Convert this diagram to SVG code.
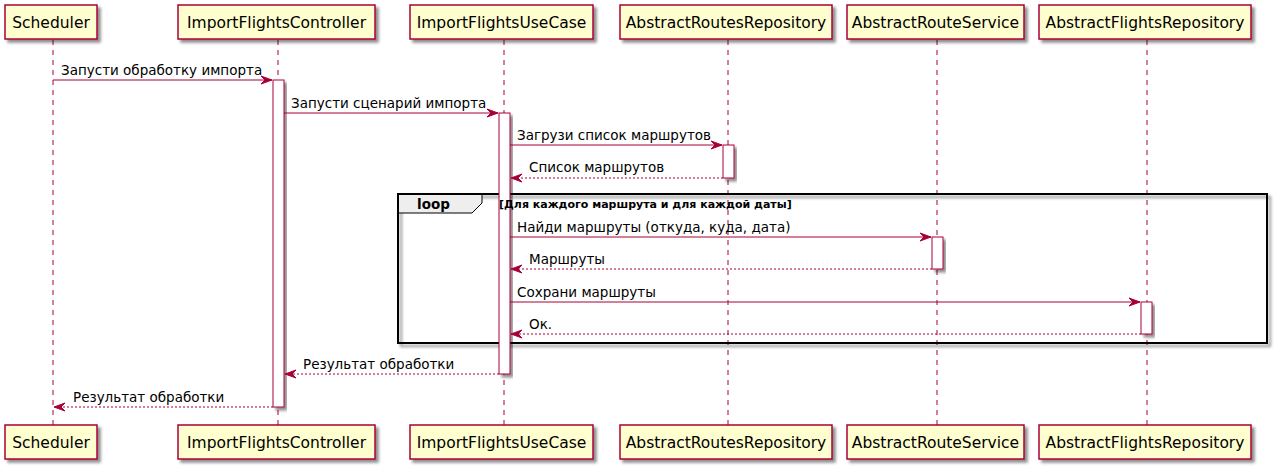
<svg xmlns="http://www.w3.org/2000/svg" width="1280" height="474" viewBox="0 0 1280 474">
<defs>
<filter id="sh" x="-10%" y="-10%" width="130%" height="140%">
<feGaussianBlur in="SourceAlpha" stdDeviation="1.5"/>
<feOffset dx="3" dy="3" result="b"/>
<feComponentTransfer><feFuncA type="linear" slope="0.45"/></feComponentTransfer>
<feMerge><feMergeNode/><feMergeNode in="SourceGraphic"/></feMerge>
</filter>
<marker id="ah" viewBox="0 0 12 10" markerWidth="12" markerHeight="10" refX="11" refY="5" orient="auto" markerUnits="userSpaceOnUse">
<polygon points="0,1 11,5 0,9 4,5" fill="#A80036" stroke="#A80036" stroke-width="1"/>
</marker>
</defs>
<style>
.life{stroke:#A80036;stroke-width:1;stroke-dasharray:5,5;fill:none}
.pbox{fill:#FEFECE;stroke:#A80036;stroke-width:1.5;filter:url(#sh)}
.ptxt{font-family:"DejaVu Sans","Liberation Sans",sans-serif;font-size:15.5px;fill:#000;text-anchor:middle}
.act{fill:#FFFFFF;stroke:#A80036;stroke-width:1;filter:url(#sh)}
.msg{stroke:#A80036;stroke-width:1;fill:none;marker-end:url(#ah)}
.ret{stroke:#A80036;stroke-width:1;fill:none;stroke-dasharray:2,2;marker-end:url(#ah)}
.mtxt{font-family:"DejaVu Sans","Liberation Sans",sans-serif;font-size:13.5px;fill:#000}
.frame{fill:none;stroke:#000;stroke-width:2;filter:url(#sh)}
.tab{fill:#EEEEEE;stroke:#000;stroke-width:1}
.ltxt{font-family:"DejaVu Sans","Liberation Sans",sans-serif;font-weight:bold;fill:#000}
</style>
<rect width="1280" height="474" fill="#FFFFFF"/>

<g id="lifelines">
<line class="life" x1="53" y1="40" x2="53" y2="425"/>
<line class="life" x1="278" y1="40" x2="278" y2="425"/>
<line class="life" x1="504" y1="40" x2="504" y2="425"/>
<line class="life" x1="728" y1="40" x2="728" y2="425"/>
<line class="life" x1="937" y1="40" x2="937" y2="425"/>
<line class="life" x1="1147" y1="40" x2="1147" y2="425"/>
</g>

<g id="loop">
<rect class="frame" x="398" y="194" width="869" height="149"/>
<path class="tab" d="M398,194 H482 V203 L472,213 H398 Z"/>
<rect x="398" y="194" width="869" height="149" fill="none" stroke="#000" stroke-width="2"/>
<text class="ltxt" x="417" y="209" font-size="13.5px">loop</text>
</g>

<g id="activations">
<rect class="act" x="273" y="80" width="11" height="327"/>
<rect class="act" x="499" y="113" width="11" height="261"/>
<rect class="act" x="723" y="145" width="11" height="33"/>
<rect class="act" x="932" y="237" width="11" height="32"/>
<rect class="act" x="1141" y="302" width="11" height="32"/>
</g>

<g id="loop-condition">
<text class="ltxt" x="499" y="208" font-size="11px">[Для каждого маршрута и для каждой даты]</text>
</g>

<g id="p-scheduler">
<rect class="pbox" x="5" y="5" width="92" height="34"/>
<text class="ptxt" x="51" y="28">Scheduler</text>
<rect class="pbox" x="5" y="425" width="92" height="34"/>
<text class="ptxt" x="51" y="448">Scheduler</text>
</g>
<g id="p-controller">
<rect class="pbox" x="178" y="5" width="197" height="34"/>
<text class="ptxt" x="276.5" y="28">ImportFlightsController</text>
<rect class="pbox" x="178" y="425" width="197" height="34"/>
<text class="ptxt" x="276.5" y="448">ImportFlightsController</text>
</g>
<g id="p-usecase">
<rect class="pbox" x="410" y="5" width="183" height="34"/>
<text class="ptxt" x="501.5" y="28">ImportFlightsUseCase</text>
<rect class="pbox" x="410" y="425" width="183" height="34"/>
<text class="ptxt" x="501.5" y="448">ImportFlightsUseCase</text>
</g>
<g id="p-routesrepo">
<rect class="pbox" x="620" y="5" width="212" height="34"/>
<text class="ptxt" x="726" y="28">AbstractRoutesRepository</text>
<rect class="pbox" x="620" y="425" width="212" height="34"/>
<text class="ptxt" x="726" y="448">AbstractRoutesRepository</text>
</g>
<g id="p-routeservice">
<rect class="pbox" x="847" y="5" width="177" height="34"/>
<text class="ptxt" x="935.5" y="28">AbstractRouteService</text>
<rect class="pbox" x="847" y="425" width="177" height="34"/>
<text class="ptxt" x="935.5" y="448">AbstractRouteService</text>
</g>
<g id="p-flightsrepo">
<rect class="pbox" x="1039" y="5" width="212" height="34"/>
<text class="ptxt" x="1145" y="28">AbstractFlightsRepository</text>
<rect class="pbox" x="1039" y="425" width="212" height="34"/>
<text class="ptxt" x="1145" y="448">AbstractFlightsRepository</text>
</g>

<g id="connectors">
<line class="msg" x1="53" y1="80" x2="272" y2="80"/>
<text class="mtxt" x="61" y="75">Запусти обработку импорта</text>
<line class="msg" x1="284" y1="113" x2="498" y2="113"/>
<text class="mtxt" x="291" y="108">Запусти сценарий импорта</text>
<line class="msg" x1="510" y1="145" x2="722" y2="145"/>
<text class="mtxt" x="517" y="140">Загрузи список маршрутов</text>
<line class="ret" x1="723" y1="178" x2="511" y2="178"/>
<text class="mtxt" x="529" y="172">Список маршрутов</text>
<line class="msg" x1="510" y1="237" x2="931" y2="237"/>
<text class="mtxt" x="517" y="232">Найди маршруты (откуда, куда, дата)</text>
<line class="ret" x1="932" y1="269" x2="511" y2="269"/>
<text class="mtxt" x="529" y="264">Маршруты</text>
<line class="msg" x1="510" y1="302" x2="1140" y2="302"/>
<text class="mtxt" x="517" y="297">Сохрани маршруты</text>
<line class="ret" x1="1141" y1="334" x2="511" y2="334"/>
<text class="mtxt" x="529" y="329">Ок.</text>
<line class="ret" x1="499" y1="374" x2="285" y2="374"/>
<text class="mtxt" x="303" y="369">Результат обработки</text>
<line class="ret" x1="273" y1="407" x2="54" y2="407"/>
<text class="mtxt" x="73" y="402">Результат обработки</text>
</g>
</svg>
